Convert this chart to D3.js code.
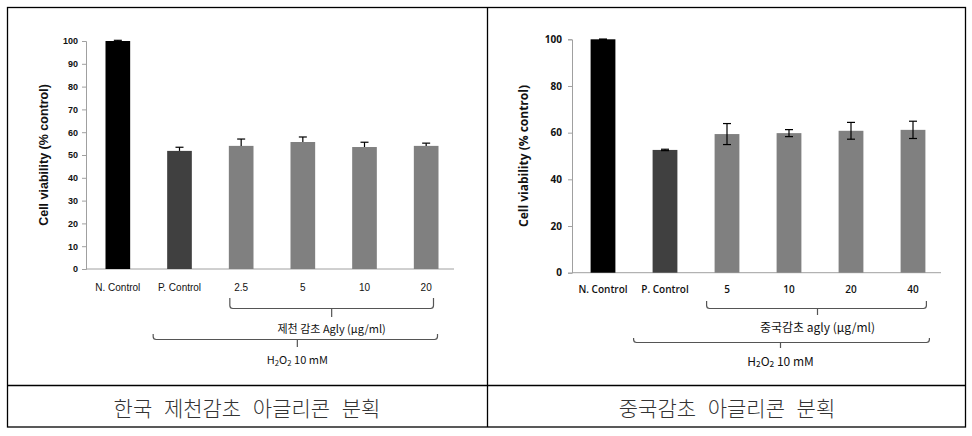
<!DOCTYPE html>
<html><head><meta charset="utf-8">
<script src="https://cdn.jsdelivr.net/npm/d3@7"></script>
<style>body{margin:0;background:#fff}svg{display:block}</style>
</head><body>
<svg id="c" width="972" height="436"></svg>
<script>
// ---------- data ----------
const leftCategories = ["N. Control","P. Control","2.5","5","10","20"];
const leftValues     = [100, 51.8, 54.0, 55.7, 53.5, 54.0];
const leftErrors     = [0.3, 1.6, 3.0, 2.2, 2.1, 1.2];
const leftTicks      = [0,10,20,30,40,50,60,70,80,90,100];
const leftGroupLabel = "제천 감초 Agly (μg/ml)";

const rightCategories = ["N. Control","P. Control","5","10","20","40"];
const rightValues     = [100, 52.6, 59.4, 59.8, 60.8, 61.2];
const rightErrors     = [0.1, 0.3, 4.5, 1.5, 3.6, 3.7];
const rightTicks      = [0,20,40,60,80,100];
const rightGroupLabel = "중국감초 agly (μg/ml)";

const yLabel = "Cell viability (% control)";
const captions = ["한국 제천감초 아글리콘 분획","중국감초 아글리콘 분획"];
const barColors = ["#000000","#404040","#808080","#808080","#808080","#808080"];

const svg = d3.select("#c");

// ---------- table frame ----------
const frame = svg.append("g").attr("stroke","#000").attr("stroke-width",1.3).attr("fill","none");
frame.append("rect").attr("x",7.5).attr("y",7.5).attr("width",958).attr("height",419.5);
frame.append("line").attr("x1",487.5).attr("x2",487.5).attr("y1",7.5).attr("y2",427);
frame.append("line").attr("x1",7.5).attr("x2",965.5).attr("y1",385.5).attr("y2",385.5);

captions.forEach((t,i)=>{
  svg.append("text").attr("x", i===0 ? 247 : 727).attr("y",407)
    .attr("text-anchor","middle").attr("dominant-baseline","central")
    .attr("font-family","'Noto Sans CJK KR'").attr("font-weight",300)
    .attr("font-size",21).attr("word-spacing","7px").attr("fill","#333").text(t);
});

function bracket(g, x1, x2, yTop, yH, yTip, xMid){
  const r = 3;
  const p = d3.path();
  p.moveTo(x1, yTop); p.lineTo(x1, yH - r); p.quadraticCurveTo(x1, yH, x1 + r, yH);
  p.lineTo(x2 - r, yH); p.quadraticCurveTo(x2, yH, x2, yH - r); p.lineTo(x2, yTop);
  p.moveTo(xMid, yH); p.lineTo(xMid, yTip);
  g.append("path").attr("d", p.toString()).attr("fill","none").attr("stroke","#555").attr("stroke-width",1.2);
}

function chart(o){
  const g = svg.append("g");
  const x = d3.scaleBand().domain(o.cats).range(o.xr).padding(0);
  const y = d3.scaleLinear().domain([0,100]).range(o.yr);
  const bw = x.step()*0.4;
  const cx = d => x(d) + x.bandwidth()/2;

  // y axis
  const ax = g.append("g").attr("transform",`translate(${o.axisX},0)`)
    .call(d3.axisLeft(y).tickValues(o.ticks).tickSize(4).tickPadding(o.tickPad));
  ax.select(".domain").attr("stroke","#a0a0a0");
  ax.selectAll(".tick line").attr("stroke","#a0a0a0");
  ax.selectAll(".tick text").attr("font-family",o.tickFont).attr("font-weight","bold")
    .attr("font-size",o.tickSize).attr("fill","#111");
  // baseline
  g.append("line").attr("x1",o.axisX).attr("x2",o.xr[1]-3).attr("y1",y(0)).attr("y2",y(0))
    .attr("stroke","#a0a0a0");

  // bars
  g.selectAll("rect.bar").data(o.cats).join("rect").attr("class","bar")
    .attr("x",d=>cx(d)-bw/2).attr("width",bw)
    .attr("y",(d,i)=>y(o.vals[i])).attr("height",(d,i)=>y(0)-y(o.vals[i]))
    .attr("fill",(d,i)=>barColors[i]);

  // error bars
  o.cats.forEach((d,i)=>{
    const top = y(o.vals[i]+o.errs[i]);
    const bot = o.fullErr ? y(o.vals[i]-o.errs[i]) : y(o.vals[i]);
    const e = g.append("g").attr("stroke","#000").attr("stroke-width",1.2);
    e.append("line").attr("x1",cx(d)).attr("x2",cx(d)).attr("y1",top).attr("y2",bot);
    e.append("line").attr("x1",cx(d)-4).attr("x2",cx(d)+4).attr("y1",top).attr("y2",top);
    if(o.fullErr) e.append("line").attr("x1",cx(d)-4).attr("x2",cx(d)+4).attr("y1",bot).attr("y2",bot);
  });

  // x labels
  g.selectAll("text.xl").data(o.cats).join("text").attr("class","xl")
    .attr("x",d=>cx(d)).attr("y",o.xLabY).attr("text-anchor","middle")
    .attr("dominant-baseline","central").attr("font-family",o.xFont)
    .attr("font-weight",o.xWeight).attr("font-size",10).attr("fill","#111").text(d=>d);

  // y label
  g.append("text").attr("transform",`translate(${o.yLabX},${(o.yr[0]+o.yr[1])/2}) rotate(-90)`)
    .attr("text-anchor","middle").attr("dominant-baseline","central")
    .attr("font-family",o.yFont).attr("font-weight","bold").attr("font-size",o.yLabSize).attr("fill","#111").text(yLabel);

  // brackets
  const c2 = o.cats[2], cL = o.cats[o.cats.length-1], c1 = o.cats[1];
  const inX1 = cx(c2)-bw/2+o.in[0], inX2 = cx(cL)+bw/2+o.in[1];
  const inMid = (inX1+inX2)/2 + o.in[2];
  bracket(g, inX1, inX2, o.in[3], o.in[4], o.in[5], inMid);
  g.append("text").attr("x",inMid).attr("y",o.in[6]).attr("text-anchor","middle")
    .attr("dominant-baseline","central").attr("font-family","'Noto Sans CJK KR'")
    .attr("font-size",o.grpSize).attr("fill","#111").text(o.grp);

  const outX1 = cx(c1)-bw/2+o.out[0], outX2 = cx(cL)+bw/2+o.out[1];
  const outMid = (outX1+outX2)/2 + o.out[2];
  bracket(g, outX1, outX2, o.out[3], o.out[4], o.out[5], outMid);
  const h = g.append("text").attr("x",outMid).attr("y",o.out[6]).attr("text-anchor","middle")
    .attr("dominant-baseline","central").attr("font-family","'Noto Sans CJK KR'")
    .attr("font-size",o.grpSize).attr("fill","#111");
  h.append("tspan").text("H");
  h.append("tspan").attr("font-size",o.grpSize*0.7).attr("dy",3).text("2");
  h.append("tspan").attr("dy",-3).text("O");
  h.append("tspan").attr("font-size",o.grpSize*0.7).attr("dy",3).text("2");
  h.append("tspan").attr("dy",-3).text(" 10 mM");
}

chart({cats:leftCategories, vals:leftValues, errs:leftErrors, ticks:leftTicks,
  xr:[87,457], yr:[269,41], axisX:86, tickPad:4, tickFont:"'Liberation Sans', Arial", tickSize:9,
  fullErr:false, xLabY:287, xFont:"'Liberation Sans', Arial", xWeight:"normal",
  yLabX:44, yFont:"'Liberation Sans', Arial", yLabSize:12.5,
  in:[1,-5,0,298,308.5,317,328], out:[-14,-1,2,334,339.5,347,359],
  grp:leftGroupLabel, grpSize:11});

chart({cats:rightCategories, vals:rightValues, errs:rightErrors, ticks:rightTicks,
  xr:[572,944], yr:[272.7,39.3], axisX:572, tickPad:6, tickFont:"'Open Sans'", tickSize:10,
  fullErr:true, xLabY:289, xFont:"'Open Sans'", xWeight:600,
  yLabX:523, yFont:"'Open Sans'", yLabSize:12,
  in:[-8,1,1,301,308.5,315,326], out:[-19,4,-1,338,342.5,348,360],
  grp:rightGroupLabel, grpSize:12});
</script>
</body></html>
